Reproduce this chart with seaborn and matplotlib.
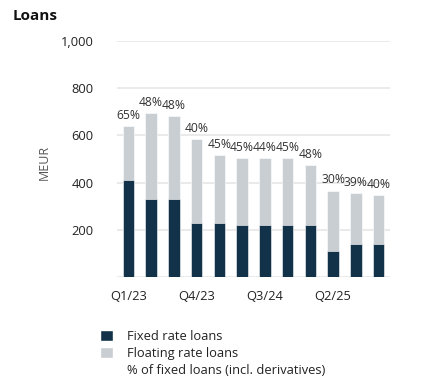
import numpy as np
import pandas as pd
import seaborn as sns
from matplotlib import pyplot as plt
from matplotlib.patches import Patch
from matplotlib.ticker import FuncFormatter

quarters = ['Q1/23', 'Q2/23', 'Q3/23', 'Q4/23', 'Q1/24', 'Q2/24',
            'Q3/24', 'Q4/24', 'Q1/25', 'Q2/25', 'Q3/25', 'Q4/25']
fixed = [412, 331, 331, 229, 229, 222, 222, 222, 222, 110, 140, 140]
floating = [229, 364, 352, 357, 286, 282, 282, 282, 252, 256, 214, 208]
pct_fixed = [65, 48, 48, 40, 45, 45, 44, 45, 48, 30, 39, 40]
shown_ticks = ['Q1/23', 'Q4/23', 'Q3/24', 'Q2/25']

DARK = '#12324a'
LIGHT = '#c9ced3'
TXT = '#222222'

sns.set_style('white')
plt.rcParams['font.family'] = ['Open Sans', 'DejaVu Sans']

df = pd.DataFrame({'quarter': quarters, 'fixed': fixed, 'floating': floating})
df['total'] = df['fixed'] + df['floating']

fig = plt.figure(figsize=(4.31, 3.84), dpi=100)
ax = fig.add_axes([0.2715, 0.2786, 0.6335, 0.6146])

sns.barplot(data=df, x='quarter', y='total', order=quarters, color=LIGHT,
            saturation=1, width=0.5, edgecolor='white', linewidth=0.4, ax=ax, zorder=2)
sns.barplot(data=df, x='quarter', y='fixed', order=quarters, color=DARK,
            saturation=1, width=0.5, edgecolor='white', linewidth=0.4, ax=ax, zorder=3)

for i, (t, p) in enumerate(zip(df['total'], pct_fixed)):
    ax.annotate('{}%'.format(p), (i, t), xytext=(0, 3), textcoords='offset points',
                ha='center', va='bottom', fontsize=8.7, color='#333333')

ax.set_xlim(-0.5, len(quarters) - 0.5)
ax.set_ylim(0, 1000)
ax.set_yticks([0, 200, 400, 600, 800, 1000])
ax.yaxis.set_major_formatter(FuncFormatter(lambda v, _: '' if v == 0 else '{:,.0f}'.format(v)))
ax.set_xticks([quarters.index(q) for q in shown_ticks])
ax.set_xticklabels(shown_ticks)
ax.tick_params(axis='y', length=0, pad=17, labelsize=9.3, labelcolor=TXT)
ax.tick_params(axis='x', length=0, pad=9, labelsize=9.3, labelcolor=TXT)
ax.grid(axis='y', color='#e6e6e6', lw=1.2, zorder=0)
ax.set_axisbelow(True)
for s in ax.spines.values():
    s.set_visible(False)
ax.set_xlabel('')
ax.set_ylabel('')

fig.text(44 / 431, 1 - 162 / 384, 'MEUR', rotation=90, ha='center', va='center',
         fontsize=9, color='#555555')
fig.text(13 / 431, 1 - 16 / 384, 'Loans', ha='left', va='center',
         fontsize=11, fontweight='bold', color='#111111')

handles = [Patch(facecolor=DARK), Patch(facecolor=LIGHT), Patch(facecolor='none', edgecolor='none')]
labels = ['Fixed rate loans', 'Floating rate loans', '% of fixed loans (incl. derivatives)']
fig.legend(handles, labels, loc='upper left', bbox_to_anchor=(88 / 431, 1 - 318 / 384),
           frameon=False, fontsize=9.3, handlelength=1.0, handleheight=1.0,
           handletextpad=1.1, labelspacing=0.3, labelcolor=TXT)

fig.savefig('out.png', dpi=100)
plt.close()
